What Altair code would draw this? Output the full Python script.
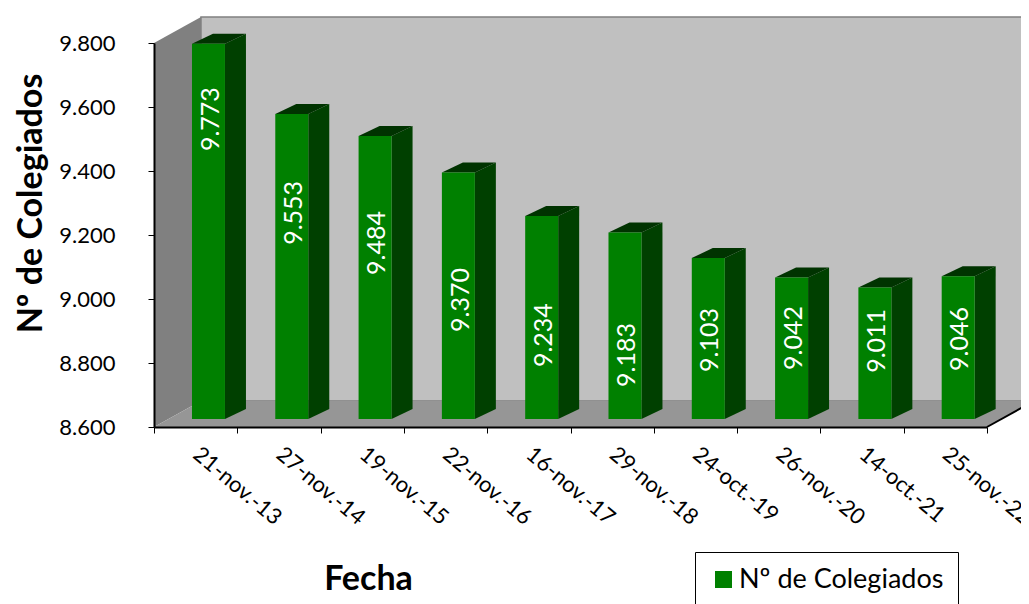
import altair as alt
import pandas as pd

# ---- values
fechas = ["21-nov.-13", "27-nov.-14", "19-nov.-15", "22-nov.-16", "16-nov.-17",
          "29-nov.-18", "24-oct.-19", "26-nov.-20", "14-oct.-21", "25-nov.-22"]
colegiados = [9773, 9553, 9484, 9370, 9234, 9183, 9103, 9042, 9011, 9046]
etiqueta_y = [9537, 9244, 9150, 8972, 8862, 8800, 8847, 8853, 8844, 8850]
serie = "Nº de Colegiados"
y_ticks = [8600, 8800, 9000, 9200, 9400, 9600, 9800]

Y_MIN, Y_MAX = 8600, 9800
N = len(fechas)

# 3-D projection, expressed in axis units
WALL_DX, WALL_DY = 0.564, 81.25
BAR_L, BAR_R = 0.456, 0.852
BAR_DX, BAR_DY = 0.252, 31.25
BAR_LIFT = 25

FONT = "Lato"
xq = alt.Scale(domain=[0, N], nice=False, zero=False)
ys = alt.Scale(domain=[Y_MIN, Y_MAX], nice=False, zero=False)

y_axis = alt.Axis(values=y_ticks, title="Nº de Colegiados", titleFont=FONT, titleFontSize=34,
                  titleFontWeight="bold", titleColor="black", titleX=-123, titleY=160,
                  titleAnchor="middle", titleBaseline="middle",
                  labelFont=FONT, labelFontSize=22, labelColor="black", labelPadding=33,
                  labelExpr="replace(format(datum.value, ',.0f'), ',', '.')",
                  tickColor="black", tickSize=6, tickWidth=1,
                  domainColor="black", domainWidth=2, grid=False, zindex=1)

def poly(rows, color, stroke=None, width=0):
    df = pd.DataFrame(rows, columns=["g", "x", "lo", "hi"])
    return alt.Chart(df).mark_area(color=color, stroke=stroke, strokeWidth=width, interpolate="linear").encode(
        x=alt.X("x:Q", scale=xq, axis=None),
        y=alt.Y("lo:Q", scale=ys, axis=y_axis, stack=None),
        y2="hi:Q",
        detail="g:N",
    )

side_wall = poly([(0, 0, Y_MIN, Y_MAX), (0, WALL_DX, Y_MIN + WALL_DY, Y_MAX + WALL_DY)], "#808080")
back_wall = poly([(0, WALL_DX, Y_MIN + WALL_DY, Y_MAX + WALL_DY),
                  (0, N + WALL_DX, Y_MIN + WALL_DY, Y_MAX + WALL_DY)], "#C0C0C0", "#808080", 1.5)
floor = poly([(0, 0, Y_MIN, Y_MIN), (0, WALL_DX, Y_MIN, Y_MIN + WALL_DY),
              (0, N, Y_MIN, Y_MIN + WALL_DY), (0, N + WALL_DX, Y_MIN + WALL_DY, Y_MIN + WALL_DY)], "#969696")

floor_edge = alt.Chart(pd.DataFrame({"x": [N, N + WALL_DX], "y": [Y_MIN, Y_MIN + WALL_DY]})).mark_line(
    color="black", strokeWidth=2).encode(
    x=alt.X("x:Q", scale=xq, axis=None), y=alt.Y("y:Q", scale=ys, axis=y_axis))

side_rows, top_rows = [], []
for i, v in enumerate(colegiados):
    r = i + BAR_R
    l = i + BAR_L
    side_rows += [(i, r, Y_MIN + BAR_LIFT, v + BAR_LIFT),
                  (i, r + BAR_DX, Y_MIN + BAR_LIFT + BAR_DY, v + BAR_LIFT + BAR_DY)]
    a, b = v + BAR_LIFT, v + BAR_LIFT + BAR_DY
    top_rows += [(i, l, a, a), (i, l + BAR_DX, a, b), (i, r, a, b), (i, r + BAR_DX, b, b)]

sides = poly(side_rows, "#004000")
tops = poly(top_rows, "#003300")

df = pd.DataFrame({
    "fecha": fechas,
    "valor": colegiados,
    "left": [i + BAR_L for i in range(N)],
    "right": [i + BAR_R for i in range(N)],
    "base": [Y_MIN] * N,
    "serie": [serie] * N,
    "texto": [f"{v:,}".replace(",", ".") for v in colegiados],
    "pos": etiqueta_y,
})

fronts = alt.Chart(df).mark_bar(yOffset=-8, y2Offset=-8).encode(
    x=alt.X("left:Q", scale=xq, axis=None),
    x2="right:Q",
    y=alt.Y("valor:Q", scale=ys, stack=None, axis=y_axis),
    y2="base:Q",
    color=alt.Color("serie:N", scale=alt.Scale(domain=[serie], range=["#008000"]),
                    legend=alt.Legend(orient="none", legendX=541, legendY=509, title=None,
                                      symbolType="square", symbolSize=289, symbolOpacity=1,
                                      labelFont=FONT, labelFontSize=27, labelColor="black", labelLimit=400,
                                      labelOffset=2, padding=14, symbolOffset=1,
                                      strokeColor="black", fillColor="white")),
)

labels = alt.Chart(df).mark_text(angle=270, xOffset=15, yOffset=-8, color="white", font=FONT, fontSize=25).encode(
    x=alt.X("fecha:N", sort=fechas, scale=alt.Scale(domain=fechas, paddingInner=0, paddingOuter=0),
            axis=alt.Axis(title="Fecha", titleFont=FONT, titleFontSize=34, titleFontWeight="bold",
                          titleColor="black", titleX=214, titleY=152, titleBaseline="middle",
                          titleAnchor="middle",
                          labelAngle=40, labelAlign="left", labelBaseline="middle", labelPadding=18,
                          labelFont=FONT, labelFontSize=22, labelColor="black", labelOverlap=False,
                          tickBand="extent", tickColor="black", tickSize=6, tickWidth=1,
                          domainColor="black", domainWidth=2, grid=False, zindex=1)),
    y=alt.Y("pos:Q", scale=ys, stack=None, axis=y_axis),
    text="texto:N",
)

chart = alt.layer(side_wall, back_wall, floor, floor_edge, sides, tops, fronts, labels).resolve_scale(
    x="independent").properties(
    width=833, height=384,
    padding={"left": 146, "top": 35, "right": 34, "bottom": 177},
    autosize=alt.AutoSizeParams(type="none"),
    background="white",
).configure_view(stroke=None)

chart.save("out.html", embed_options={"renderer": "svg", "actions": False})
